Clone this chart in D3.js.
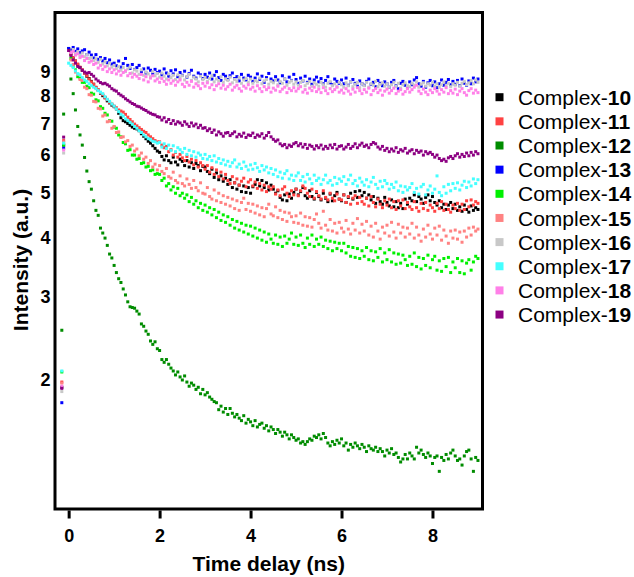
<!DOCTYPE html>
<html>
<head>
<meta charset="utf-8">
<script src="https://cdn.jsdelivr.net/npm/d3@7/dist/d3.min.js"></script>
<style>
  html, body { margin: 0; padding: 0; background: #fff; }
  svg { display: block; }
  text { font-family: "Liberation Sans", Arial, sans-serif; fill: #000; }
</style>
</head>
<body>
<div id="chart"></div>
<script>
// ---------------- DATA ----------------
// Time grid: two pre-zero points, then 0 .. 9.0 ns every 0.05 ns
const preTimes = [-0.15, -0.11];
const gridStep = 0.05;
const gridCount = 181;

const seriesNames = ["10","11","12","13","14","15","16","17","18","19"];
const seriesColors = ["#000000","#ff4242","#008c00","#0000ff","#00f000","#ff8282","#c8c8c8","#44ffff","#ff80e8","#8c0082"];

const xTicks = [0, 2, 4, 6, 8];
const yTicks = [2, 3, 4, 5, 6, 7, 8, 9];

// each array: 2 pre-zero values, then 181 values from 0 to 9 ns
const complex10 = [1.93, 6.3,
 10.0, 9.82, 9.65, 9.5, 9.32, 9.2, 9.08, 8.96, 8.82, 8.72,
 8.6, 8.48, 8.34, 8.24, 8.12, 8.02, 7.94, 7.82, 7.74, 7.66,
 7.6, 7.52, 7.36, 7.2, 7.1, 7.06, 7.0, 6.94, 6.88, 6.84,
 6.82, 6.76, 6.66, 6.58, 6.5, 6.42, 6.36, 6.28, 6.2, 6.12,
 6.08, 5.96, 5.86, 5.98, 5.84, 5.78, 5.94, 5.8, 5.72, 5.88,
 5.82, 5.7, 5.84, 5.66, 5.78, 5.62, 5.76, 5.7, 5.56, 5.68,
 5.66, 5.54, 5.48, 5.6, 5.38, 5.5, 5.32, 5.42, 5.28, 5.36,
 5.2, 5.32, 5.12, 5.24, 5.08, 5.18, 5.02, 5.16, 5.0, 5.12,
 4.98, 5.14, 5.2, 5.32, 5.16, 5.3, 5.12, 5.24, 5.06, 5.18,
 5.08, 4.98, 5.04, 4.88, 4.82, 4.94, 4.8, 4.96, 4.86, 5.0,
 5.08, 4.94, 5.02, 5.12, 4.92, 4.86, 5.04, 4.9, 4.84, 5.0,
 4.9, 4.82, 4.98, 4.86, 4.78, 4.96, 4.8, 4.92, 5.0, 4.84,
 4.8, 4.94, 4.76, 4.88, 4.98, 4.84, 5.02, 4.88, 5.04, 4.92,
 5.0, 4.86, 4.94, 4.82, 4.9, 4.74, 4.86, 4.78, 4.72, 4.88,
 4.76, 4.68, 4.82, 4.66, 4.78, 4.64, 4.74, 4.62, 4.84, 4.72,
 4.86, 4.8, 4.94, 4.78, 4.9, 4.84, 4.74, 4.88, 4.94, 4.8,
 4.9, 4.76, 4.7, 4.8, 4.64, 4.72, 4.6, 4.7, 4.76, 4.62,
 4.72, 4.58, 4.66, 4.56, 4.7, 4.6, 4.54, 4.68, 4.58, 4.64,
 4.6];

const complex11 = [1.98, 6.44,
 10.0, 9.85, 9.66, 9.5, 9.36, 9.22, 9.1, 8.96, 8.84, 8.7,
 8.58, 8.48, 8.36, 8.26, 8.14, 8.06, 7.94, 7.86, 7.76, 7.7,
 7.62, 7.56, 7.48, 7.44, 7.4, 7.32, 7.22, 7.14, 7.06, 6.98,
 6.92, 6.86, 6.8, 6.74, 6.7, 6.62, 6.56, 6.5, 6.44, 6.4,
 6.4, 6.3, 6.22, 6.26, 6.1, 6.16, 6.0, 6.08, 5.94, 6.02,
 5.92, 5.84, 5.96, 5.8, 5.88, 5.72, 5.84, 5.66, 5.78, 5.7,
 5.6, 5.7, 5.52, 5.64, 5.46, 5.58, 5.4, 5.52, 5.34, 5.46,
 5.3, 5.22, 5.4, 5.24, 5.34, 5.18, 5.28, 5.36, 5.14, 5.26,
 5.32, 5.16, 5.26, 5.1, 5.22, 5.06, 5.18, 5.02, 5.14, 5.08,
 5.14, 4.96, 5.06, 4.92, 5.08, 5.14, 4.98, 4.9, 5.04, 4.94,
 5.08, 4.92, 5.04, 5.16, 5.1, 4.98, 4.9, 5.08, 4.86, 5.02,
 4.92, 4.84, 5.04, 4.88, 4.82, 4.98, 4.86, 4.8, 4.96, 4.84,
 4.82, 4.94, 4.76, 4.9, 4.72, 4.86, 4.92, 4.74, 4.88, 4.78,
 4.72, 4.86, 4.68, 4.9, 4.76, 4.66, 4.84, 4.72, 4.64, 4.8,
 4.7, 4.84, 4.64, 4.78, 4.6, 4.8, 4.68, 4.82, 4.62, 4.76,
 4.66, 4.6, 4.78, 4.64, 4.56, 4.74, 4.62, 4.76, 4.58, 4.7,
 4.64, 4.56, 4.74, 4.62, 4.78, 4.58, 4.72, 4.6, 4.54, 4.7,
 4.62, 4.74, 4.58, 4.72, 4.6, 4.8, 4.66, 4.82, 4.7, 4.78,
 4.74];

const complex12 = [2.55, 7.33,
 10.1, 8.7, 8.1, 7.48, 6.9, 6.62, 6.3, 5.93, 5.55, 5.27,
 5.08, 4.8, 4.58, 4.47, 4.2, 4.1, 4.0, 3.86, 3.7, 3.63,
 3.5, 3.38, 3.28, 3.22, 3.12, 3.03, 2.93, 2.86, 2.85, 2.84,
 2.8, 2.76, 2.63, 2.6, 2.54, 2.5, 2.42, 2.38, 2.41, 2.33,
 2.31, 2.21, 2.18, 2.21, 2.16, 2.12, 2.09, 2.05, 2.08, 2.03,
 2.0, 2.04, 1.98, 1.94, 1.97, 1.95, 1.91, 1.93, 1.87, 1.91,
 1.86, 1.88, 1.84, 1.82, 1.8, 1.79, 1.73, 1.76, 1.71, 1.74,
 1.69, 1.74, 1.7, 1.67, 1.69, 1.66, 1.64, 1.68, 1.62, 1.65,
 1.63, 1.6, 1.64, 1.59, 1.61, 1.62, 1.58, 1.6, 1.56, 1.59,
 1.57, 1.54, 1.57, 1.55, 1.52, 1.55, 1.53, 1.5, 1.53, 1.51,
 1.49, 1.5, 1.47, 1.48, 1.46, 1.48, 1.5, 1.49, 1.52, 1.51,
 1.53, 1.5, 1.54, 1.51, 1.47, 1.45, 1.48, 1.46, 1.49, 1.47,
 1.5, 1.45, 1.47, 1.42, 1.46, 1.44, 1.47, 1.45, 1.43, 1.46,
 1.44, 1.41, 1.45, 1.43, 1.42, 1.44, 1.41, 1.43, 1.41, 1.38,
 1.42, 1.4, 1.43, 1.39, 1.4, 1.37, 1.34, 1.36, 1.39, 1.36,
 1.4, 1.38, 1.36, 1.44, 1.4, 1.42, 1.39, 1.37, 1.4, 1.38,
 1.33, 1.37, 1.38, 1.28, 1.37, 1.35, 1.39, 1.36, 1.4, 1.42,
 1.38, 1.35, 1.36, 1.32, 1.38, 1.41, 1.42, 1.36, 1.28, 1.37,
 1.35];

const complex13 = [1.79, 6.21,
 10.1, 10.02, 10.15, 9.96, 10.08, 9.9, 9.98, 10.04, 9.8, 9.92,
 9.78, 9.64, 9.8, 9.58, 9.66, 9.5, 9.62, 9.42, 9.55, 9.36,
 9.4, 9.28, 9.5, 9.22, 9.38, 9.62, 9.3, 9.16, 9.34, 9.12,
 9.2, 9.3, 9.02, 9.14, 8.96, 9.18, 9.08, 8.92, 9.12, 8.98,
 9.04, 8.88, 9.14, 8.96, 8.82, 9.06, 8.92, 9.1, 8.8, 8.98,
 8.86, 9.04, 8.78, 8.94, 9.08, 8.82, 8.74, 8.96, 8.88, 8.72,
 8.9, 8.78, 8.96, 8.7, 8.86, 9.02, 8.76, 8.64, 8.9, 8.82,
 8.68, 8.84, 8.96, 8.72, 8.8, 8.62, 8.9, 8.74, 8.66, 8.86,
 8.78, 8.6, 8.74, 8.92, 8.68, 8.82, 8.56, 8.76, 8.94, 8.7,
 8.62, 8.8, 8.66, 8.54, 8.84, 8.7, 8.58, 8.78, 8.64, 8.9,
 8.68, 8.52, 8.74, 8.62, 8.82, 8.56, 8.7, 8.48, 8.66, 8.78,
 8.58, 8.72, 8.5, 8.64, 8.8, 8.54, 8.46, 8.7, 8.6, 8.52,
 8.66, 8.5, 8.74, 8.44, 8.58, 8.68, 8.52, 8.4, 8.62, 8.5,
 8.44, 8.6, 8.7, 8.48, 8.56, 8.38, 8.64, 8.52, 8.42, 8.58,
 8.5, 8.36, 8.56, 8.64, 8.42, 8.3, 8.52, 8.6, 8.44, 8.34,
 8.58, 8.46, 8.66, 8.76, 8.5, 8.4, 8.6, 8.36, 8.54, 8.64,
 8.42, 8.58, 8.34, 8.5, 8.66, 8.44, 8.56, 8.68, 8.46, 8.6,
 8.48, 8.64, 8.42, 8.7, 8.52, 8.44, 8.62, 8.5, 8.74, 8.58,
 8.7];

const complex14 = [2.08, 6.3,
 10.0, 9.62, 9.26, 9.1, 8.8, 8.74, 8.56, 8.56, 8.4, 8.34,
 8.12, 8.08, 7.86, 7.82, 7.6, 7.54, 7.36, 7.3, 7.1, 7.08,
 6.88, 6.84, 6.62, 6.56, 6.38, 6.34, 6.14, 6.16, 6.0, 6.0,
 5.88, 5.9, 5.76, 5.78, 5.66, 5.68, 5.56, 5.58, 5.46, 5.48,
 5.46, 5.3, 5.36, 5.16, 5.22, 5.06, 5.14, 4.98, 5.1, 4.92,
 4.98, 4.86, 4.94, 4.78, 4.88, 4.72, 4.8, 4.64, 4.74, 4.58,
 4.7, 4.54, 4.64, 4.48, 4.6, 4.42, 4.54, 4.36, 4.48, 4.32,
 4.44, 4.26, 4.38, 4.2, 4.34, 4.16, 4.3, 4.12, 4.26, 4.08,
 4.24, 4.04, 4.2, 4.0, 4.16, 3.96, 4.12, 3.92, 4.08, 3.98,
 3.9, 4.06, 3.88, 4.02, 3.84, 4.04, 3.9, 3.98, 4.1, 3.88,
 4.02, 3.86, 4.06, 3.9, 3.82, 4.0, 3.88, 4.06, 3.84, 3.98,
 3.88, 4.02, 3.84, 3.96, 3.8, 3.94, 3.76, 3.92, 3.8, 3.9,
 3.76, 3.9, 3.72, 3.84, 3.66, 3.82, 3.64, 3.8, 3.62, 3.76,
 3.66, 3.82, 3.6, 3.76, 3.58, 3.74, 3.64, 3.8, 3.56, 3.72,
 3.6, 3.78, 3.56, 3.72, 3.52, 3.7, 3.54, 3.68, 3.6, 3.5,
 3.66, 3.52, 3.72, 3.48, 3.64, 3.44, 3.62, 3.5, 3.68, 3.46,
 3.6, 3.66, 3.42, 3.58, 3.4, 3.62, 3.48, 3.64, 3.38, 3.56,
 3.46, 3.62, 3.38, 3.58, 3.36, 3.54, 3.6, 3.42, 3.56, 3.66,
 3.62];

const complex15 = [1.97, 6.4,
 10.0, 9.55, 9.34, 9.0, 8.9, 8.68, 8.64, 8.36, 8.3, 8.06,
 8.04, 7.8, 7.78, 7.54, 7.52, 7.26, 7.3, 7.06, 7.08, 6.84,
 6.9, 6.7, 6.72, 6.54, 6.56, 6.4, 6.44, 6.26, 6.3, 6.12,
 6.18, 5.98, 6.06, 5.88, 5.94, 5.76, 5.84, 5.66, 5.74, 5.58,
 5.7, 5.54, 5.48, 5.62, 5.4, 5.36, 5.52, 5.3, 5.24, 5.42,
 5.22, 5.16, 5.34, 5.2, 5.1, 5.3, 5.12, 5.04, 5.24, 4.98,
 4.96, 5.12, 4.9, 4.84, 5.06, 4.8, 4.98, 4.76, 4.92, 4.72,
 4.88, 4.68, 4.84, 4.62, 4.8, 4.58, 4.76, 4.86, 4.6, 4.74,
 4.56, 4.72, 4.52, 4.68, 4.48, 4.64, 4.44, 4.62, 4.72, 4.5,
 4.46, 4.66, 4.42, 4.58, 4.38, 4.54, 4.34, 4.52, 4.44, 4.32,
 4.46, 4.3, 4.52, 4.26, 4.44, 4.24, 4.42, 4.22, 4.38, 4.5,
 4.3, 4.2, 4.56, 4.26, 4.16, 4.38, 4.14, 4.3, 4.1, 4.32,
 4.2, 4.12, 4.36, 4.18, 4.08, 4.3, 4.16, 4.4, 4.1, 4.28,
 4.14, 4.34, 4.06, 4.24, 4.02, 4.3, 4.14, 3.98, 4.22, 4.1,
 4.26, 4.04, 4.32, 4.12, 4.0, 4.28, 4.1, 4.22, 4.02, 4.2,
 4.08, 4.3, 4.0, 4.22, 4.06, 3.94, 4.18, 4.02, 4.26, 4.08,
 3.98, 4.2, 4.06, 4.24, 3.96, 4.16, 4.04, 3.9, 4.14, 4.0,
 4.16, 3.98, 4.12, 3.92, 4.14, 4.02, 4.2, 4.06, 4.22, 4.14,
 4.18];

const complex16 = [1.89, 6.06,
 10.0, 9.92, 10.05, 9.86, 9.94, 9.78, 9.88, 9.7, 9.8, 9.62,
 9.66, 9.52, 9.6, 9.44, 9.58, 9.36, 9.46, 9.28, 9.4, 9.22,
 9.3, 9.16, 9.24, 9.08, 9.2, 9.02, 9.14, 9.22, 8.96, 9.1,
 9.04, 8.9, 9.1, 8.86, 9.0, 8.92, 8.8, 9.02, 8.84, 8.94,
 8.78, 8.96, 8.82, 8.7, 8.92, 8.76, 8.86, 8.68, 8.88, 8.74,
 8.84, 8.66, 8.8, 8.9, 8.64, 8.78, 8.7, 8.58, 8.82, 8.68,
 8.76, 8.6, 8.72, 8.84, 8.58, 8.7, 8.62, 8.8, 8.56, 8.7,
 8.64, 8.78, 8.54, 8.68, 8.6, 8.76, 8.52, 8.66, 8.72, 8.56,
 8.7, 8.52, 8.64, 8.58, 8.74, 8.5, 8.62, 8.68, 8.48, 8.6,
 8.54, 8.66, 8.46, 8.6, 8.52, 8.7, 8.44, 8.56, 8.62, 8.48,
 8.58, 8.44, 8.56, 8.64, 8.42, 8.52, 8.6, 8.4, 8.54, 8.48,
 8.4, 8.56, 8.46, 8.36, 8.52, 8.6, 8.42, 8.5, 8.38, 8.56,
 8.46, 8.36, 8.54, 8.42, 8.58, 8.38, 8.48, 8.56, 8.34, 8.5,
 8.42, 8.56, 8.36, 8.5, 8.44, 8.6, 8.38, 8.48, 8.54, 8.4,
 8.5, 8.36, 8.46, 8.56, 8.4, 8.52, 8.32, 8.46, 8.54, 8.42,
 8.38, 8.52, 8.44, 8.58, 8.36, 8.48, 8.54, 8.4, 8.5, 8.44,
 8.56, 8.4, 8.5, 8.36, 8.46, 8.58, 8.42, 8.52, 8.38, 8.5,
 8.44, 8.56, 8.4, 8.52, 8.6, 8.46, 8.54, 8.64, 8.5, 8.66,
 8.56];

const complex17 = [2.09, 6.36,
 9.4, 9.3, 9.2, 9.05, 8.93, 8.88, 8.76, 8.66, 8.6, 8.5,
 8.42, 8.36, 8.3, 8.22, 8.16, 8.1, 7.98, 7.88, 7.8, 7.7,
 7.62, 7.52, 7.42, 7.32, 7.26, 7.16, 7.1, 7.04, 6.98, 6.9,
 6.84, 6.76, 6.7, 6.62, 6.56, 6.5, 6.48, 6.42, 6.4, 6.36,
 6.38, 6.24, 6.34, 6.2, 6.3, 6.14, 6.28, 6.1, 6.22, 6.16,
 6.08, 6.2, 6.02, 6.14, 5.98, 6.1, 5.94, 6.06, 6.0, 5.9,
 6.02, 5.88, 5.96, 5.84, 5.98, 5.8, 5.9, 5.76, 5.86, 5.72,
 5.82, 5.68, 5.78, 5.86, 5.66, 5.74, 5.62, 5.8, 5.68, 5.58,
 5.72, 5.6, 5.76, 5.64, 5.54, 5.7, 5.58, 5.66, 5.5, 5.62,
 5.46, 5.58, 5.4, 5.52, 5.36, 5.48, 5.56, 5.34, 5.44, 5.3,
 5.42, 5.5, 5.3, 5.4, 5.26, 5.46, 5.34, 5.22, 5.44, 5.3,
 5.36, 5.2, 5.32, 5.44, 5.24, 5.3, 5.18, 5.38, 5.22, 5.34,
 5.28, 5.4, 5.2, 5.32, 5.44, 5.22, 5.3, 5.16, 5.36, 5.26,
 5.18, 5.32, 5.14, 5.26, 5.38, 5.2, 5.1, 5.28, 5.14, 5.3,
 5.22, 5.08, 5.2, 5.12, 5.26, 5.04, 5.16, 5.0, 5.14, 5.06,
 5.12, 5.22, 5.0, 5.1, 4.96, 5.14, 5.2, 4.94, 5.06, 5.16,
 4.98, 5.08, 5.42, 5.0, 4.92, 5.14, 4.98, 5.2, 5.04, 5.22,
 5.1, 5.24, 5.06, 5.18, 5.28, 5.12, 5.26, 5.16, 5.34, 5.22,
 5.32];

const complex18 = [1.94, 6.15,
 10.0, 9.9, 9.96, 9.78, 9.84, 9.66, 9.72, 9.52, 9.62, 9.44,
 9.5, 9.34, 9.4, 9.18, 9.3, 9.12, 9.24, 9.02, 9.14, 8.98,
 9.1, 8.92, 9.04, 8.86, 8.98, 9.06, 8.84, 8.94, 8.78, 8.9,
 8.82, 8.72, 8.9, 8.66, 8.8, 8.58, 8.74, 8.84, 8.62, 8.7,
 8.56, 8.72, 8.6, 8.48, 8.66, 8.52, 8.62, 8.44, 8.58, 8.66,
 8.48, 8.38, 8.56, 8.44, 8.6, 8.36, 8.5, 8.42, 8.3, 8.52,
 8.4, 8.54, 8.34, 8.46, 8.26, 8.42, 8.5, 8.32, 8.44, 8.28,
 8.38, 8.48, 8.24, 8.36, 8.44, 8.3, 8.2, 8.4, 8.32, 8.46,
 8.28, 8.36, 8.2, 8.42, 8.3, 8.18, 8.38, 8.26, 8.34, 8.16,
 8.32, 8.24, 8.4, 8.18, 8.28, 8.36, 8.14, 8.3, 8.22, 8.34,
 8.2, 8.3, 8.38, 8.16, 8.26, 8.12, 8.32, 8.22, 8.36, 8.18,
 8.28, 8.14, 8.34, 8.22, 8.1, 8.3, 8.18, 8.26, 8.36, 8.16,
 8.24, 8.12, 8.3, 8.2, 8.08, 8.28, 8.16, 8.34, 8.22, 8.1,
 8.26, 8.16, 8.32, 8.06, 8.22, 8.3, 8.14, 8.24, 8.04, 8.2,
 8.28, 8.12, 8.22, 8.32, 8.1, 8.2, 8.26, 8.08, 8.18, 8.3,
 8.16, 8.26, 8.36, 8.44, 8.2, 8.1, 8.28, 8.16, 8.06, 8.24,
 8.14, 8.3, 8.2, 8.08, 8.26, 8.16, 8.34, 8.1, 8.22, 8.12,
 8.28, 8.06, 8.2, 8.3, 8.14, 8.04, 8.22, 8.3, 8.12, 8.24,
 8.14];

const complex19 = [1.92, 6.55,
 10.0, 9.75, 9.55, 9.4, 9.25, 9.2, 9.08, 9.0, 8.95, 8.98,
 8.9, 8.82, 8.7, 8.62, 8.55, 8.5, 8.52, 8.46, 8.4, 8.3,
 8.24, 8.2, 8.1, 8.04, 7.98, 7.9, 7.84, 7.78, 7.72, 7.68,
 7.62, 7.6, 7.55, 7.5, 7.46, 7.4, 7.36, 7.32, 7.3, 7.24,
 7.22, 7.12, 7.2, 7.06, 7.14, 7.0, 7.1, 6.98, 7.06, 7.02,
 6.94, 7.06, 6.98, 6.9, 7.02, 6.92, 6.98, 6.86, 6.94, 6.84,
 6.86, 6.76, 6.82, 6.7, 6.78, 6.62, 6.72, 6.66, 6.58, 6.68,
 6.7, 6.6, 6.66, 6.72, 6.56, 6.64, 6.58, 6.68, 6.54, 6.62,
 6.6, 6.68, 6.54, 6.62, 6.58, 6.66, 6.52, 6.6, 6.7, 6.56,
 6.48, 6.42, 6.46, 6.34, 6.28, 6.32, 6.22, 6.3, 6.26, 6.34,
 6.38, 6.28, 6.34, 6.24, 6.32, 6.2, 6.3, 6.26, 6.18, 6.28,
 6.22, 6.3, 6.18, 6.26, 6.2, 6.3, 6.22, 6.32, 6.18, 6.26,
 6.28, 6.18, 6.24, 6.32, 6.2, 6.26, 6.34, 6.22, 6.3, 6.36,
 6.26, 6.3, 6.22, 6.32, 6.38, 6.34, 6.24, 6.18, 6.26, 6.14,
 6.2, 6.1, 6.18, 6.12, 6.22, 6.08, 6.16, 6.12, 6.2, 6.06,
 6.12, 6.16, 6.04, 6.14, 6.08, 6.12, 6.0, 6.1, 6.04, 6.08,
 6.02, 5.94, 6.0, 5.9, 5.84, 5.88, 5.82, 5.92, 5.96, 5.9,
 5.98, 6.04, 5.94, 6.02, 5.96, 6.06, 5.98, 6.08, 6.0, 6.1,
 6.04];

const seriesValues = [complex10, complex11, complex12, complex13, complex14,
                      complex15, complex16, complex17, complex18, complex19];

// ---------------- CHART ----------------
const W = 634, H = 577;
const plot = { left: 55, right: 482.5, top: 12.5, bottom: 509 };

const times = preTimes.concat(d3.range(gridCount).map(i => +(i * gridStep).toFixed(2)));

const x = d3.scaleLinear().domain([-0.3, 9.1]).range([plot.left, plot.right]);
const y = d3.scaleLog().domain([1.065, 12.04]).range([plot.bottom, plot.top]);

const svg = d3.select("#chart").append("svg")
  .attr("width", W).attr("height", H);

// data points
const pts = svg.append("g");
seriesValues.forEach((vals, si) => {
  const data = vals.map((v, i) => ({ t: times[i], v }));
  pts.append("g")
    .attr("fill", seriesColors[si])
    .selectAll("rect")
    .data(data)
    .join("rect")
    .attr("x", d => x(d.t) - 1.5)
    .attr("y", d => y(d.v) - 1.5)
    .attr("width", 3)
    .attr("height", 3);
});

// frame
svg.append("rect")
  .attr("x", plot.left).attr("y", plot.top)
  .attr("width", plot.right - plot.left)
  .attr("height", plot.bottom - plot.top)
  .attr("fill", "none").attr("stroke", "#000").attr("stroke-width", 3);

// x axis
const xAxis = svg.append("g")
  .attr("transform", `translate(0,${plot.bottom + 1.5})`)
  .call(d3.axisBottom(x).tickValues(xTicks).tickSize(8).tickPadding(11).tickFormat(d3.format("d")));
xAxis.select(".domain").remove();
xAxis.selectAll(".tick line").attr("stroke", "#000").attr("stroke-width", 3);
xAxis.selectAll(".tick text")
  .style("font-family", "'Liberation Sans', Arial, sans-serif")
  .style("font-size", "18px").style("font-weight", "bold").attr("fill", "#000");

// y axis
const yAxis = svg.append("g")
  .attr("transform", `translate(${plot.left - 1.5},0)`)
  .call(d3.axisLeft(y).tickValues(yTicks).tickSize(0).tickPadding(3).tickFormat(d3.format("d")));
yAxis.select(".domain").remove();
yAxis.selectAll(".tick text")
  .style("font-family", "'Liberation Sans', Arial, sans-serif")
  .style("font-size", "18px").style("font-weight", "bold").attr("fill", "#000");

// axis titles
svg.append("text")
  .attr("x", (plot.left + plot.right) / 2).attr("y", 571)
  .attr("text-anchor", "middle")
  .style("font-size", "21px").style("font-weight", "bold")
  .text("Time delay (ns)");

svg.append("text")
  .attr("transform", "translate(28,260) rotate(-90)")
  .attr("text-anchor", "middle")
  .style("font-size", "21px").style("font-weight", "bold")
  .text("Intensity (a.u.)");

// legend
const legend = svg.append("g");
seriesNames.forEach((name, i) => {
  const cy = 97.2 + i * 24.15;
  legend.append("rect")
    .attr("x", 495.5).attr("y", cy - 4).attr("width", 8).attr("height", 8)
    .attr("fill", seriesColors[i]);
  const t = legend.append("text")
    .attr("x", 518).attr("y", cy).attr("dy", "0.36em")
    .style("font-size", "21px");
  t.append("tspan").text("Complex-");
  t.append("tspan").style("font-weight", "bold").text(name);
});
</script>
</body>
</html>
